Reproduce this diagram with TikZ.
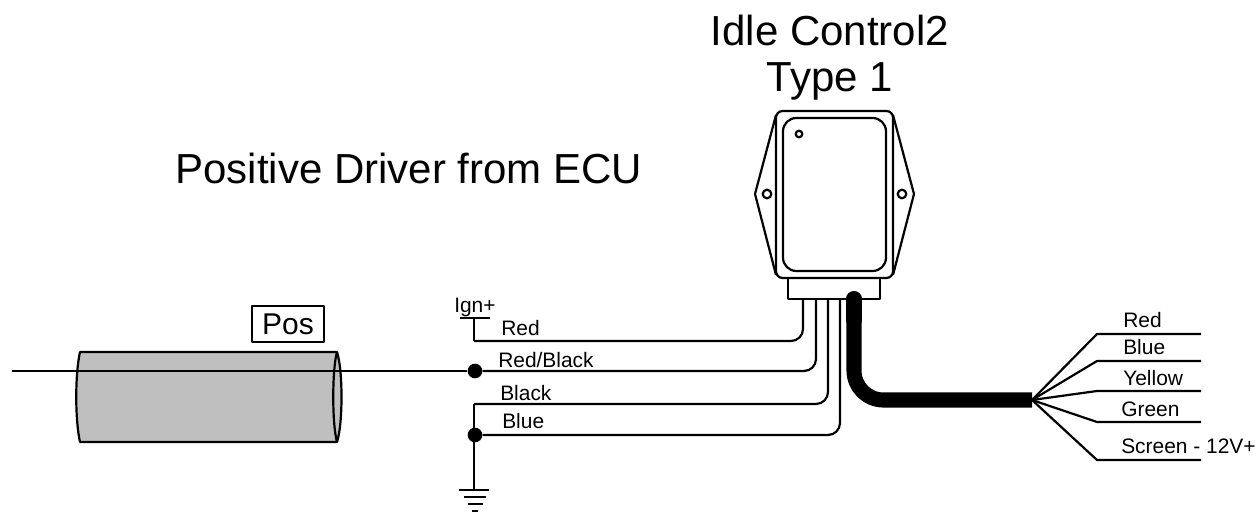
\documentclass[tikz,border=0pt]{standalone}
\usepackage{fontspec}
\setmainfont{Liberation Sans}
\usetikzlibrary{positioning}

\tikzset{
  wire/.style={line width=1.65pt},
  roundwire/.style={wire, rounded corners=9pt},
  cable/.style={line width=11.3pt},
  dot/.style={circle, fill=black, inner sep=0pt, minimum size=11pt},
  small/.style={inner sep=0pt, anchor=base west, font=\fontsize{15.7}{18}\selectfont},
  big/.style={inner sep=0pt, anchor=base, font=\fontsize{31.5}{36}\selectfont}
}

\begin{document}
\begin{tikzpicture}[x=0.75pt, y=-0.75pt, line join=round]
   \useasboundingbox (0, 0) rectangle (1260, 513);

   % titles
   \node[big] (title1) at (830, 46) {Idle Control2};
   \node[big] (title2) at (830, 92) {Type 1};
   \node[big] (title3) at (409, 184) {Positive Driver from ECU};

   % sleeve
   \draw[wire, fill=black!25] (80, 352) -- (337, 352)
        .. controls (343, 370) and (343, 424) .. (337, 442)
        -- (80, 442) .. controls (75, 420) and (75, 374) .. cycle;
   \draw[wire] (337, 352) .. controls (332, 370) and (332, 424) .. (337, 442);
   \node[draw, line width=1.4pt, minimum width=54.5pt, minimum height=27pt, inner sep=0pt,
         font=\fontsize{22.5}{26}\selectfont] (pos) at (288, 324) {Pos};

   % module
   \draw[wire] (776, 115) -- (755, 194) -- (776, 275);
   \draw[wire] (893, 115) -- (914, 194) -- (893, 275);
   \draw[wire, rounded corners=5pt] (776, 111) rectangle (893, 278);
   \draw[wire, rounded corners=10pt] (783, 118) rectangle (886, 271);
   \draw[wire] (799, 134) circle (3.3);
   \draw[wire] (767, 194) circle (4.3);
   \draw[wire] (902, 194) circle (4.3);
   \draw[wire] (788, 278) rectangle (880, 299);

   % junctions and pins
   \coordinate (pinA) at (803, 299);
   \coordinate (pinB) at (816, 299);
   \coordinate (pinC) at (828, 299);
   \coordinate (pinD) at (840, 299);
   \coordinate (ign) at (474, 318);
   \coordinate (redjoin) at (474, 341);
   \coordinate (blackjoin) at (474, 404);
   \coordinate (wireL) at (12, 371);
   \node[dot] (dotA) at (475, 371) {};
   \node[dot] (dotB) at (475, 435) {};
   \coordinate (gnd) at (474, 490);

   % harness
   \draw[wire] (wireL) -- (dotA);
   \draw[wire] (ign) -- (redjoin);
   \draw[roundwire] (redjoin) -| (pinA);
   \draw[roundwire] (dotA) -| (pinB);
   \draw[roundwire] (blackjoin) -| (pinC);
   \draw[roundwire] (dotB) -| (pinD);
   \draw[wire] (blackjoin) -- (gnd);
   \draw[wire] (460, 318) -- (490, 318);

   % ground
   \draw[wire] (459, 490) -- (489, 490);
   \draw[wire] (464, 497) -- (486, 497);
   \draw[wire] (468, 504) -- (483, 504);
   \draw[wire] (472, 511) -- (478, 511);

   % cable
   \coordinate (cableT) at (854, 298.5);
   \coordinate (fan) at (1032, 400);
   \draw[cable, line cap=round] (cableT) -- (854, 320);
   \draw[cable, rounded corners=22pt] (cableT) |- (fan);

   % outputs
   \foreach \name/\y in {a/334, b/361, c/391, d/422, e/460} {
      \coordinate (out\name) at (1097, \y);
      \coordinate (end\name) at (1201, \y);
      \draw[wire] (fan) -- (out\name) -- (end\name);
   }

   % labels
   \node[small] (lred) at (501, 335) {Red};
   \node[small] (lredblack) at (498, 367) {Red/Black};
   \node[small] (lblack) at (500, 400) {Black};
   \node[small] (lblue) at (502, 428) {Blue};
   \node[small] (lign) at (454, 312) {Ign+};
   \node[small] (ored) at (1123, 327) {Red};
   \node[small] (oblue) at (1123, 354) {Blue};
   \node[small] (oyellow) at (1123, 385) {Yellow};
   \node[small] (ogreen) at (1121, 416) {Green};
   \node[small] (oscreen) at (1121, 453) {Screen - 12V+};

\end{tikzpicture}
\end{document}
